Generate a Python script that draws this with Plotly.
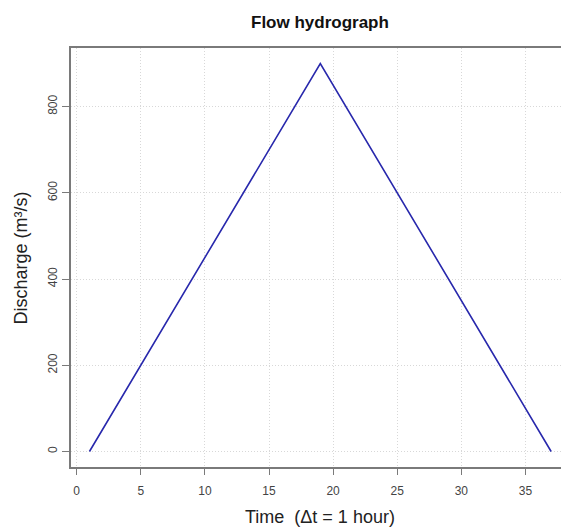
import plotly.graph_objects as go

# Data (vertices of the triangular hydrograph)
time_h = [1, 19, 37]
discharge = [0, 900, 0]

x_ticks = [0, 5, 10, 15, 20, 25, 30, 35]
y_ticks = [0, 200, 400, 600, 800]

FONT = "Liberation Sans, Arial, sans-serif"
AXIS_COL = "#7a7a7a"
GRID_COL = "#d8d8d8"

fig = go.Figure()
fig.add_trace(go.Scatter(
    x=time_h, y=discharge, mode="lines",
    line=dict(color="#2828ac", width=1.6),
    hoverinfo="skip", showlegend=False,
))

fig.update_layout(
    width=561, height=527,
    margin=dict(l=71, r=0, t=48, b=60),
    paper_bgcolor="white", plot_bgcolor="white",
    font=dict(family=FONT, color="#333333"),
    showlegend=False,
)

fig.update_xaxes(
    range=[-0.44, 37.77],
    tickmode="array", tickvals=x_ticks, ticktext=[str(v) for v in x_ticks],
    ticks="outside", ticklen=6, tickwidth=1.3, tickcolor=AXIS_COL,
    ticklabelstandoff=6,
    tickfont=dict(size=12, color="#444444"),
    showline=True, linecolor=AXIS_COL, linewidth=1.6, mirror=True,
    showgrid=True, gridcolor=GRID_COL, griddash="1px,2px", gridwidth=1,
    zeroline=False,
)
fig.update_yaxes(
    range=[-36, 936],
    tickmode="array", tickvals=y_ticks, ticktext=[str(v) for v in y_ticks],
    ticks="outside", ticklen=7, tickwidth=1.3, tickcolor=AXIS_COL,
    tickangle=-90,
    tickfont=dict(size=12, color="#444444"),
    showline=True, linecolor=AXIS_COL, linewidth=1.6, mirror=False,
    showgrid=True, gridcolor=GRID_COL, griddash="1px,2px", gridwidth=1,
    zeroline=False,
)

# Title and axis labels as annotations centred on the original (uncropped) plot box
fig.add_annotation(text="<b>Flow hydrograph</b>", xref="paper", yref="paper",
                   x=0.508, y=1.062, xanchor="center", yanchor="middle",
                   showarrow=False, font=dict(size=17, color="#111111", family=FONT))
fig.add_annotation(text="Time  (Δt = 1 hour)", xref="paper", yref="paper",
                   x=0.508, y=-0.119, xanchor="center", yanchor="middle",
                   showarrow=False, font=dict(size=18, color="#222222", family=FONT))
fig.add_annotation(text="Discharge (m³/s)", xref="paper", yref="paper",
                   x=-0.104, y=0.4976, xanchor="center", yanchor="middle",
                   textangle=-90,
                   showarrow=False, font=dict(size=18, color="#222222", family=FONT))

fig.write_html("out.html")
